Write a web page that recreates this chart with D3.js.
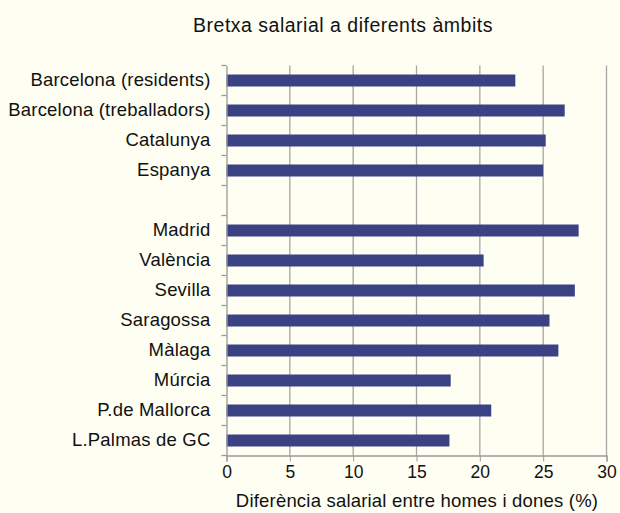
<!DOCTYPE html>
<html lang="ca">
<head>
<meta charset="utf-8">
<script src="https://d3js.org/d3.v7.min.js"></script>
<style>
  body { margin: 0; background: #fefef2; }
  text { font-family: "Liberation Sans", Arial, sans-serif; fill: #111; }
  .bar { fill: #3b4283; }
  .grid line { stroke: #a6a6a6; stroke-width: 1.3px; }
</style>
</head>
<body>
<script>
// categories top to bottom; blank row separates the two groups
const categories = ["Barcelona (residents)", "Barcelona (treballadors)", "Catalunya", "Espanya", " ",
  "Madrid", "València", "Sevilla", "Saragossa", "Màlaga", "Múrcia", "P.de Mallorca", "L.Palmas de GC"];
const values = [22.8, 26.7, 25.2, 25.0, null, 27.8, 20.3, 27.5, 25.5, 26.2, 17.7, 20.9, 17.6];
const xTicks = [0, 5, 10, 15, 20, 25, 30];

const W = 620, H = 513;
const margin = { top: 65.5, right: 13.5, bottom: 57.5, left: 226.5 };
const width = W - margin.left - margin.right;
const height = H - margin.top - margin.bottom;

const svg = d3.select("body").append("svg")
  .attr("width", W).attr("height", H);

svg.append("rect").attr("width", W).attr("height", H).attr("fill", "#fefef2");

const g = svg.append("g")
  .attr("transform", "translate(" + margin.left + "," + margin.top + ")");

const x = d3.scaleLinear().domain([0, 30]).range([0, width]);
const y = d3.scaleBand().domain(categories).range([0, height]).paddingInner(0).paddingOuter(0);

// vertical gridlines
g.append("g").attr("class", "grid")
  .selectAll("line").data(xTicks.slice(1)).join("line")
  .attr("x1", d => x(d)).attr("x2", d => x(d))
  .attr("y1", 0).attr("y2", height);

// bars
const barH = y.bandwidth() * 0.4;
g.selectAll(".bar")
  .data(categories.map((c, i) => ({ c, v: values[i] })).filter(d => d.v !== null))
  .join("rect")
  .attr("class", "bar")
  .attr("x", 0)
  .attr("y", d => y(d.c) + (y.bandwidth() - barH) / 2)
  .attr("width", d => x(d.v))
  .attr("height", barH);

// bottom axis
const xAxis = g.append("g")
  .attr("transform", "translate(0," + height + ")")
  .call(d3.axisBottom(x).tickValues(xTicks).tickSize(6).tickPadding(4));
xAxis.select(".domain").attr("stroke", "#999").attr("stroke-width", 1.3);
xAxis.selectAll(".tick line").attr("stroke", "#999");
xAxis.selectAll("text").style("font-size", "17.5px").attr("fill", "#111");

// left axis: labels centred in bands, ticks on band edges
const yAxis = g.append("g")
  .call(d3.axisLeft(y).tickSize(0).tickPadding(16));
yAxis.select(".domain").attr("stroke", "#999").attr("stroke-width", 1.3);
yAxis.selectAll("text").style("font-size", "18.5px").style("letter-spacing", "0.2px").attr("fill", "#111");

const edges = categories.map(c => y(c)).concat([height]);
g.append("g").selectAll("line").data(edges).join("line")
  .attr("x1", -5).attr("x2", 0)
  .attr("y1", d => d).attr("y2", d => d)
  .attr("stroke", "#999").attr("stroke-width", 1.3);

// title
svg.append("text")
  .attr("x", 343).attr("y", 31.5)
  .attr("text-anchor", "middle")
  .style("font-size", "19.5px")
  .style("letter-spacing", "0.5px")
  .text("Bretxa salarial a diferents àmbits");

// x axis label
svg.append("text")
  .attr("x", 417).attr("y", 507)
  .attr("text-anchor", "middle")
  .style("font-size", "18.5px")
  .style("letter-spacing", "0.2px")
  .text("Diferència salarial entre homes i dones (%)");
</script>
</body>
</html>
